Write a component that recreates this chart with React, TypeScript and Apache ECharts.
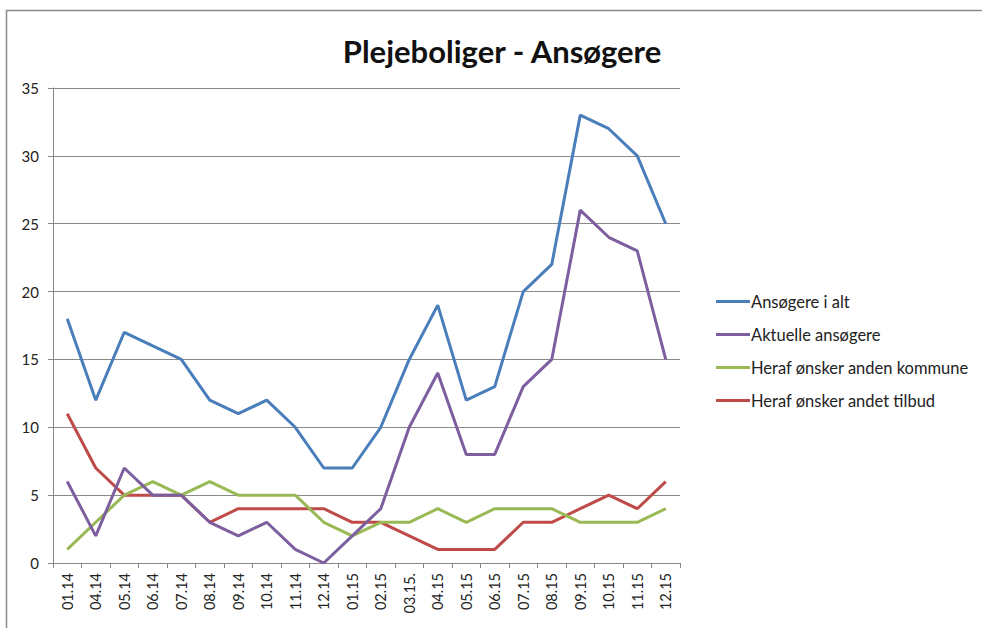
import React, { useEffect, useRef } from "react";
import * as echarts from "echarts";

const categories = ["01.14", "04.14", "05.14", "06.14", "07.14", "08.14", "09.14", "10.14", "11.14", "12.14", "01.15", "02.15", "03.15.", "04.15", "05.15", "06.15", "07.15", "08.15", "09.15", "10.15", "11.15", "12.15"];
const ansoegereIAlt = [18, 12, 17, 16, 15, 12, 11, 12, 10, 7, 7, 10, 15, 19, 12, 13, 20, 22, 33, 32, 30, 25];
const aktuelleAnsoegere = [6, 2, 7, 5, 5, 3, 2, 3, 1, 0, 2, 4, 10, 14, 8, 8, 13, 15, 26, 24, 23, 15];
const andenKommune = [1, 3, 5, 6, 5, 6, 5, 5, 5, 3, 2, 3, 3, 4, 3, 4, 4, 4, 3, 3, 3, 4];
const andetTilbud = [11, 7, 5, 5, 5, 3, 4, 4, 4, 4, 3, 3, 2, 1, 1, 1, 3, 3, 4, 5, 4, 6];
const seriesNames = ["Ansøgere i alt", "Aktuelle ansøgere", "Heraf ønsker anden kommune", "Heraf ønsker andet tilbud"];
const colors = ["#4A7EBB", "#7D5FA0", "#98B954", "#BE4B48"];

export default function App() {
  const ref = useRef<HTMLDivElement>(null);
  useEffect(() => {
    if (!ref.current) return;
    const chart = echarts.init(ref.current, null, { renderer: "svg" });
    const font = "Lato, 'Open Sans', sans-serif";
    const data = [ansoegereIAlt, aktuelleAnsoegere, andenKommune, andetTilbud];
    chart.setOption({
      animation: false,
      backgroundColor: "#ffffff",
      title: {
        text: "Plejeboliger - Ansøgere",
        left: 497,
        textAlign: "center",
        top: 30,
        textStyle: { fontFamily: font, fontSize: 31, fontWeight: "bold", color: "#111" },
      },
      graphic: [
        {
          type: "rect",
          shape: { x: 6.5, y: 10.5, width: 1100, height: 800 },
          style: { fill: "none", stroke: "#8a8a8a", lineWidth: 1.5 },
          silent: true,
        },
      ],
      legend: {
        orient: "vertical",
        left: 711,
        top: 288,
        itemGap: 16,
        itemWidth: 34,
        itemHeight: 3,
        icon: "rect",
        textStyle: { fontFamily: font, fontSize: 16.5, color: "#222", padding: [0, 0, 0, -4] },
        data: seriesNames,
      },
      grid: { left: 53, right: 302, top: 88, bottom: 65, containLabel: false },
      xAxis: {
        type: "category",
        data: categories,
        boundaryGap: true,
        axisLine: { lineStyle: { color: "#868686", width: 1 } },
        axisTick: { show: true, inside: false, length: 5, alignWithLabel: false, lineStyle: { color: "#868686" } },
        axisLabel: { rotate: 90, fontFamily: font, fontSize: 14.5, color: "#222", margin: 10, interval: 0 },
        splitLine: { show: false },
      },
      yAxis: {
        type: "value",
        min: 0,
        max: 35,
        interval: 5,
        axisLine: { show: true, lineStyle: { color: "#868686", width: 1 } },
        axisTick: { show: true, length: 5, lineStyle: { color: "#868686" } },
        axisLabel: { fontFamily: font, fontSize: 15, color: "#222", margin: 14 },
        splitLine: { show: true, lineStyle: { color: "#8a8a8a", width: 1 } },
      },
      series: seriesNames.map((name, i) => ({
        name,
        type: "line",
        data: data[i],
        symbol: "none",
        lineStyle: { color: colors[i], width: 3 },
        itemStyle: { color: colors[i] },
        z: 10 - i,
      })),
    });
    return () => chart.dispose();
  }, []);
  return <div ref={ref} style={{ position: "fixed", left: 0, top: 0, width: 982, height: 628 }} />;
}
